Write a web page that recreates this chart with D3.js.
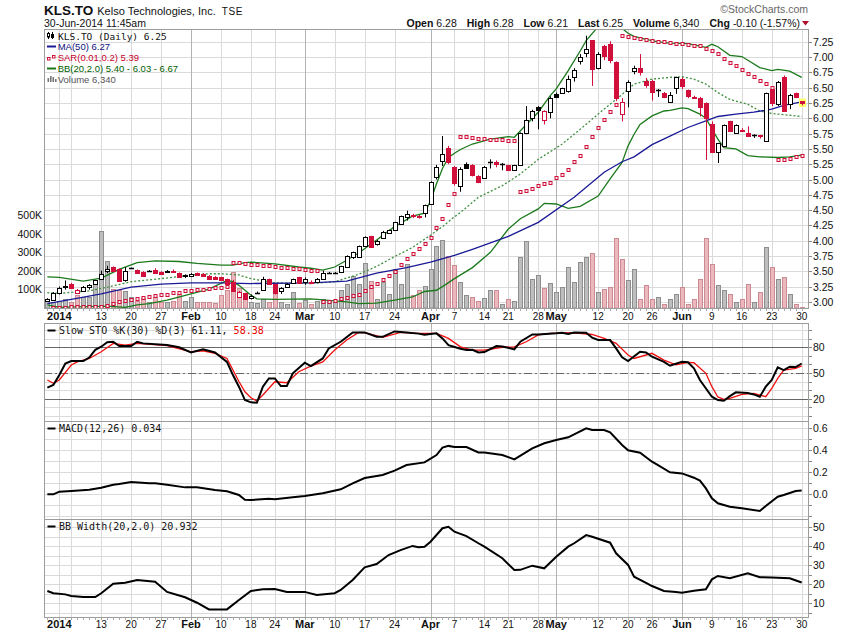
<!DOCTYPE html>
<html><head><meta charset="utf-8">
<script src="https://cdn.jsdelivr.net/npm/d3@7/dist/d3.min.js"></script>
<style>html,body{margin:0;padding:0;background:#fff;}svg{display:block}</style>
</head><body>
<svg id="chart" width="850" height="633"></svg>
<script>
// ---------------- DATA ----------------
const symbol = "KLS.TO", companyName = "Kelso Technologies, Inc.", exchange = "TSE";
const stamp = "30-Jun-2014 11:45am";
const quote = [["Open","6.28"],["High","6.28"],["Low","6.21"],["Last","6.25"],["Volume","6,340"],["Chg","-0.10 (-1.57%)"]];
const tradingDays = {
 "2013-12":[30,31],
 "2014-01":[2,3,6,7,8,9,10,13,14,15,16,17,20,21,22,23,24,27,28,29,30,31],
 "2014-02":[3,4,5,6,7,10,11,12,13,14,18,19,20,21,24,25,26,27,28],
 "2014-03":[3,4,5,6,7,10,11,12,13,14,17,18,19,20,21,24,25,26,27,28,31],
 "2014-04":[1,2,3,4,7,8,9,10,11,14,15,16,17,21,22,23,24,25,28,29,30],
 "2014-05":[1,2,5,6,7,8,9,12,13,14,15,16,20,21,22,23,26,27,28,29,30],
 "2014-06":[2,3,4,5,6,9,10,11,12,13,16,17,18,19,20,23,24,25,26,27,30]
};
const openP = [3.02,3.03,3.14,3.24,3.30,3.14,3.18,3.25,3.30,3.38,
3.50,3.57,3.54,3.36,3.55,3.52,3.49,3.51,3.52,3.49,
3.49,3.51,3.47,3.44,3.42,3.47,3.46,3.43,3.41,3.40,
3.37,3.33,3.08,3.14,3.06,3.15,3.20,3.37,3.29,3.18,
3.24,3.31,3.40,3.33,3.32,3.33,3.38,3.47,3.47,3.49,
3.57,3.73,3.74,3.91,4.07,3.94,4.04,4.13,4.18,4.28,
4.39,4.42,4.40,4.45,4.60,5.04,5.30,5.52,5.20,4.90,
5.26,5.23,5.06,5.03,5.28,5.28,5.25,5.23,5.16,5.23,
5.76,6.01,6.19,5.97,6.11,6.40,6.42,6.45,6.68,6.93,
7.06,7.28,6.83,7.18,7.21,6.92,6.07,6.44,6.78,6.83,
6.61,6.61,6.47,6.41,6.26,6.50,6.65,6.46,6.35,6.34,
6.25,5.90,5.45,5.55,5.95,5.76,5.81,5.76,5.72,5.72,
5.63,6.48,6.24,6.68,6.23,6.41,6.28];
const highP = [3.06,3.16,3.25,3.35,3.31,3.21,3.26,3.29,3.36,3.51,
3.59,3.58,3.55,3.57,3.56,3.53,3.50,3.52,3.55,3.50,
3.52,3.53,3.48,3.45,3.47,3.48,3.47,3.44,3.42,3.41,
3.38,3.36,3.18,3.15,3.12,3.17,3.41,3.38,3.30,3.24,
3.31,3.38,3.41,3.40,3.35,3.39,3.51,3.49,3.49,3.59,
3.76,3.82,3.92,4.07,4.08,4.01,4.16,4.18,4.31,4.41,
4.49,4.44,4.42,4.59,4.97,5.24,5.71,5.55,5.22,5.20,
5.28,5.25,5.07,5.22,5.33,5.31,5.27,5.24,5.24,5.77,
6.20,6.14,6.20,6.13,6.36,6.42,6.50,6.70,6.82,7.05,
7.35,7.28,7.08,7.20,7.26,6.93,6.33,6.62,6.86,7.05,
6.66,6.63,6.48,6.43,6.43,6.68,6.67,6.47,6.37,6.35,
6.26,5.95,5.60,5.90,5.96,5.90,5.84,5.87,5.74,5.73,
6.42,6.50,6.61,6.70,6.40,6.42,6.28];
const lowP = [3.01,3.02,3.12,3.20,3.21,3.13,3.17,3.20,3.29,3.37,
3.47,3.50,3.33,3.33,3.54,3.47,3.41,3.49,3.46,3.45,
3.48,3.48,3.40,3.39,3.41,3.43,3.42,3.37,3.36,3.34,
3.29,3.17,3.06,3.03,3.04,3.13,3.18,3.29,3.12,3.13,
3.23,3.30,3.30,3.28,3.29,3.32,3.37,3.46,3.46,3.48,
3.56,3.70,3.73,3.90,3.89,3.92,4.03,4.12,4.17,4.27,
4.33,4.37,4.36,4.38,4.59,5.00,5.22,5.25,4.90,4.80,
5.18,5.05,4.94,5.02,5.18,5.20,5.15,5.15,5.15,5.22,
5.74,5.95,5.82,5.90,6.00,6.33,6.40,6.42,6.60,6.88,
7.00,6.53,6.80,6.95,6.90,6.28,5.95,6.18,6.72,6.70,
6.50,6.29,6.35,6.33,6.25,6.40,6.48,6.33,6.33,6.03,
5.32,5.45,5.27,5.53,5.78,5.75,5.78,5.70,5.68,5.67,
5.62,6.20,6.20,6.12,6.15,6.33,6.21];
const closeP = [3.04,3.14,3.23,3.26,3.22,3.20,3.25,3.27,3.35,3.46,
3.54,3.51,3.34,3.51,3.55,3.48,3.42,3.50,3.48,3.46,
3.50,3.49,3.41,3.42,3.46,3.44,3.43,3.38,3.37,3.35,
3.30,3.18,3.16,3.05,3.10,3.15,3.38,3.30,3.14,3.22,
3.30,3.37,3.31,3.38,3.31,3.38,3.47,3.475,3.48,3.58,
3.75,3.81,3.91,4.06,3.90,4.00,4.15,4.17,4.30,4.40,
4.43,4.40,4.39,4.58,4.96,5.21,5.41,5.29,4.94,5.18,
5.19,5.07,4.96,5.20,5.285,5.25,5.26,5.16,5.23,5.76,
5.98,6.12,6.13,6.12,6.34,6.35,6.49,6.64,6.79,7.01,
7.13,6.80,7.05,7.02,6.96,6.34,6.26,6.60,6.83,6.76,
6.54,6.43,6.47,6.35,6.38,6.67,6.53,6.37,6.34,6.19,
6.00,5.45,5.59,5.89,5.80,5.89,5.80,5.71,5.72,5.71,
6.41,6.25,6.60,6.12,6.38,6.35,6.25];
// volume in thousands of shares
const volumeK = [46,31,40,51,35,69,57,57,130,415,
255,105,95,90,60,40,55,35,60,30,
35,40,75,40,60,30,35,30,25,69,
95,195,110,82,33,28,51,33,87,33,
24,84,29,42,21,37,46,42,33,96,
132,172,129,241,145,46,141,78,210,132,
237,69,96,120,213,334,370,282,231,138,
69,62,37,55,95,95,21,48,37,275,
361,156,181,107,134,84,114,219,138,246,
275,295,89,102,116,381,264,152,210,51,
127,51,57,24,46,73,112,24,51,159,
381,240,127,95,78,30,46,132,35,89,
332,219,159,165,73,24,6.34];
const sar = [null,2.90,2.90,2.90,2.91,2.91,2.91,2.91,2.92,
2.92,2.94,2.96,2.99,3.01,3.03,3.05,3.06,3.08,3.09,3.11,3.12,3.14,3.15,3.17,3.18,3.19,3.20,3.21,3.22,3.23,3.24,
3.64,3.63,3.62,3.61,3.60,3.59,3.58,3.57,3.56,3.55,3.54,3.53,3.52,3.51,3.50,
3.00,3.00,3.02,3.04,3.07,3.09,3.12,3.18,3.24,3.30,3.35,3.43,3.49,3.60,3.70,3.79,3.87,3.95,4.05,4.20,4.36,4.59,4.77,
5.70,5.70,5.68,5.67,5.66,5.65,5.65,5.64,5.63,5.63,
4.80,4.81,4.84,4.89,4.92,4.95,5.02,5.08,5.16,5.28,5.39,5.53,5.69,5.84,5.97,6.10,6.22,
7.34,7.33,7.31,7.29,7.28,7.27,7.25,7.24,7.23,7.22,7.21,7.20,7.19,7.18,7.14,7.10,7.05,6.97,6.90,6.85,6.79,6.73,6.67,6.61,6.56,6.50,
5.32,5.32,5.34,5.36,5.39];
const ma50 = [["12-30",2.97],["01-06",3.04],["01-13",3.13],["01-20",3.24],["01-27",3.29],["02-03",3.31],["02-10",3.31],["02-18",3.30],["03-04",3.31],["03-12",3.34],["03-19",3.47],["03-26",3.56],["04-01",3.65],["04-07",3.76],["04-10",3.86],["04-21",4.07],["04-28",4.30],["05-06",4.71],["05-13",5.12],["05-16",5.29],["05-21",5.37],["05-26",5.57],["05-29",5.71],["06-03",5.85],["06-06",5.96],["06-10",6.03],["06-13",6.07],["06-18",6.10],["06-23",6.15],["06-25",6.21],["06-30",6.27]];
const bbUpper = [["12-30",3.41],["01-02",3.40],["01-08",3.34],["01-13",3.39],["01-16",3.53],["01-21",3.64],["01-24",3.67],["01-30",3.66],["02-04",3.63],["02-10",3.60],["02-12",3.60],["02-14",3.64],["02-18",3.65],["02-24",3.62],["02-28",3.57],["03-04",3.55],["03-06",3.52],["03-10",3.57],["03-12",3.68],["03-14",3.80],["03-19",4.01],["03-24",4.23],["03-27",4.40],["03-31",4.45],["04-01",4.65],["04-02",4.93],["04-03",5.18],["04-04",5.36],["04-07",5.43],["04-08",5.49],["04-10",5.58],["04-15",5.66],["04-21",5.70],["04-22",5.69],["04-24",5.90],["04-28",6.10],["04-30",6.37],["05-01",6.48],["05-05",6.78],["05-07",7.10],["05-08",7.27],["05-12",7.50],["05-14",7.58],["05-16",7.47],["05-20",7.39],["05-21",7.34],["05-23",7.29],["05-27",7.25],["05-29",7.23],["06-03",7.22],["06-06",7.16],["06-09",7.21],["06-10",7.17],["06-12",7.03],["06-16",7.01],["06-19",6.83],["06-23",6.78],["06-24",6.80],["06-26",6.77],["06-30",6.67]];
const bbMiddle = [["12-30",3.15],["01-02",3.14],["01-09",3.18],["01-14",3.24],["01-20",3.33],["01-27",3.38],["02-03",3.44],["02-06",3.46],["02-10",3.46],["02-13",3.44],["02-18",3.38],["02-24",3.31],["03-04",3.30],["03-10",3.33],["03-14",3.45],["03-19",3.58],["03-24",3.74],["03-27",3.89],["04-01",4.09],["04-03",4.23],["04-07",4.39],["04-08",4.46],["04-11",4.71],["04-17",4.90],["04-23",5.09],["04-28",5.33],["05-02",5.58],["05-07",5.82],["05-12",6.07],["05-16",6.39],["05-20",6.48],["05-21",6.56],["05-26",6.64],["05-29",6.67],["06-02",6.68],["06-04",6.64],["06-06",6.56],["06-10",6.42],["06-12",6.31],["06-17",6.23],["06-19",6.12],["06-23",6.08],["06-25",6.06],["06-30",6.03]];
const bbLower = [["12-30",2.95],["01-02",2.91],["01-07",2.92],["01-14",2.93],["01-17",2.91],["01-21",2.95],["01-23",2.97],["01-28",3.03],["02-03",3.13],["02-06",3.21],["02-11",3.35],["02-12",3.33],["02-13",3.27],["02-18",3.11],["02-19",3.05],["02-24",3.04],["03-04",3.05],["03-12",3.00],["03-14",2.97],["03-19",2.98],["03-24",3.03],["03-27",3.08],["03-31",3.17],["04-02",3.19],["04-03",3.25],["04-07",3.38],["04-10",3.56],["04-15",3.81],["04-21",4.19],["04-23",4.36],["04-28",4.52],["04-29",4.61],["05-01",4.60],["05-05",4.53],["05-07",4.56],["05-12",4.73],["05-14",5.01],["05-16",5.28],["05-20",5.55],["05-21",5.74],["05-22",5.90],["05-26",6.04],["05-28",6.12],["05-29",6.13],["06-02",6.17],["06-03",6.16],["06-05",6.07],["06-06",6.00],["06-10",5.66],["06-11",5.52],["06-13",5.50],["06-17",5.39],["06-19",5.37],["06-24",5.36],["06-26",5.37],["06-30",5.40]];
const stoK = [["12-30",33],["12-31",36],["01-02",47.6],["01-03",61],["01-06",64],["01-08",64],["01-09",68],["01-10",77],["01-13",80.7],["01-14",86],["01-15",86.5],["01-16",81.5],["01-20",81.5],["01-21",86.5],["01-22",84.6],["01-28",82.6],["01-30",80],["02-03",74],["02-05",77.6],["02-07",74],["02-11",63],["02-12",47.6],["02-13",34],["02-14",18.4],["02-18",15.7],["02-19",15.3],["02-20",34],["02-21",43.7],["02-24",43.7],["02-25",34.8],["02-26",34.8],["02-27",49.6],["03-03",62],["03-04",58],["03-06",67],["03-07",78.7],["03-11",86.5],["03-13",97.4],["03-17",97.4],["03-19",92.3],["03-20",92.3],["03-24",98.6],["03-26",97.4],["03-28",96],["03-31",94.6],["04-02",96.3],["04-03",90.4],["04-04",82.6],["04-08",78.3],["04-09",76.8],["04-10",77.2],["04-11",74],["04-14",74.5],["04-16",81.4],["04-17",81],["04-22",77.6],["04-23",86.5],["04-25",95],["04-28",95],["05-01",96.3],["05-02",97],["05-05",95.5],["05-06",97.4],["05-08",97],["05-09",91.2],["05-12",88.5],["05-14",88.5],["05-15",78.8],["05-16",68.3],["05-20",64],["05-22",74.8],["05-23",74],["05-26",69],["05-28",63],["05-29",58.5],["06-02",63],["06-03",62.5],["06-04",55.4],["06-05",41.8],["06-09",22.3],["06-10",18.4],["06-11",17.6],["06-12",23],["06-13",27.4],["06-17",26.5],["06-18",25],["06-19",22.3],["06-20",34],["06-23",41.8],["06-24",56.6],["06-25",53.4],["06-26",57.3],["06-27",57],["06-30",61.11]];
const stoD = [["12-30",41.8],["12-31",38],["01-02",41.8],["01-06",59.3],["01-07",63],["01-09",67],["01-13",74.8],["01-15",84.6],["01-17",82.6],["01-21",84.6],["01-28",82],["02-03",74.8],["02-05",76],["02-07",73],["02-11",67],["02-13",40],["02-14",28],["02-18",21],["02-19",17.3],["02-20",24.3],["02-24",39.8],["02-26",38.6],["02-28",51.5],["03-04",58],["03-06",63],["03-10",76.8],["03-12",88.5],["03-14",97.4],["03-17",97],["03-20",91.6],["03-25",97.4],["03-28",96.3],["04-02",96.3],["04-04",90.4],["04-08",80.6],["04-10",76.8],["04-14",76.8],["04-17",80],["04-22",80.6],["04-24",86.5],["04-28",94.6],["04-30",96.3],["05-06",97],["05-09",95],["05-13",90.4],["05-15",84.6],["05-20",71],["05-21",67],["05-26",73],["05-28",65],["05-30",59.5],["06-03",62.4],["06-04",62],["06-06",49.6],["06-09",34],["06-10",22],["06-11",19.3],["06-12",20.4],["06-16",25],["06-18",26.3],["06-20",22.3],["06-23",32],["06-24",43.7],["06-25",53.4],["06-27",55.4],["06-30",58.38]];
const macd = [["12-30",0.00],["12-31",0.00],["01-02",0.024],["01-06",0.03],["01-09",0.042],["01-13",0.06],["01-15",0.087],["01-16",0.094],["01-20",0.112],["01-23",0.10],["01-24",0.10],["01-28",0.087],["01-31",0.063],["02-04",0.063],["02-07",0.039],["02-11",0.027],["02-13",-0.006],["02-14",-0.049],["02-18",-0.052],["02-21",-0.04],["02-24",-0.045],["02-27",-0.027],["03-03",-0.015],["03-06",0.009],["03-11",0.045],["03-13",0.10],["03-17",0.148],["03-20",0.175],["03-24",0.215],["03-26",0.266],["03-31",0.29],["04-02",0.357],["04-03",0.424],["04-04",0.44],["04-07",0.43],["04-09",0.43],["04-11",0.38],["04-14",0.38],["04-17",0.357],["04-22",0.318],["04-25",0.418],["04-29",0.464],["05-01",0.494],["05-05",0.518],["05-08",0.60],["05-09",0.585],["05-13",0.585],["05-14",0.563],["05-16",0.448],["05-20",0.40],["05-22",0.378],["05-26",0.296],["05-27",0.266],["05-29",0.20],["06-02",0.19],["06-04",0.151],["06-05",0.124],["06-06",0.054],["06-09",-0.036],["06-10",-0.082],["06-12",-0.113],["06-16",-0.127],["06-19",-0.152],["06-20",-0.106],["06-24",-0.022],["06-25",-0.006],["06-27",0.03],["06-30",0.034]];
const bbWidth = [["12-30",16.5],["12-31",15.3],["01-03",14.7],["01-06",13.8],["01-08",13.3],["01-10",13.3],["01-13",15.3],["01-15",20.3],["01-17",20.8],["01-21",22.3],["01-24",21.4],["01-28",16],["01-31",13.2],["02-04",10.3],["02-06",6.8],["02-11",6.8],["02-13",11.7],["02-18",16.5],["02-20",17.4],["02-24",17.5],["02-26",16],["03-03",16],["03-05",14.4],["03-10",15.3],["03-11",17],["03-13",22.3],["03-17",28.9],["03-19",30.7],["03-21",35.4],["03-25",38],["03-27",40.2],["03-28",39.5],["03-31",39.8],["04-01",42.4],["04-03",49.5],["04-04",50.3],["04-07",47.7],["04-09",45.4],["04-11",41.6],["04-14",39.8],["04-17",33.7],["04-22",27.5],["04-23",27.6],["04-25",29.8],["04-29",28.4],["05-01",34.5],["05-05",39.8],["05-06",41.6],["05-08",45.9],["05-09",45],["05-14",41.9],["05-15",36.3],["05-20",30.2],["05-21",24],["05-23",20.8],["05-26",19.1],["05-28",16.5],["05-30",16],["06-02",15.6],["06-04",16.6],["06-06",17.4],["06-09",22.6],["06-10",24.4],["06-12",23.2],["06-17",25.8],["06-19",23.7],["06-23",23.6],["06-26",23.2],["06-30",20.932]];
const dateLabels = [["01-02","2014","y"],["01-13","13","d"],["01-20","20","d"],["01-27","27","d"],["02-03","Feb","m"],["02-10","10","d"],["02-18","18","d"],["02-24","24","d"],["03-03","Mar","m"],["03-10","10","d"],["03-17","17","d"],["03-24","24","d"],["04-01","Apr","m"],["04-07","7","d"],["04-14","14","d"],["04-21","21","d"],["04-28","28","d"],["05-01","May","m"],["05-12","12","d"],["05-20","20","d"],["05-26","26","d"],["06-02","Jun","m"],["06-09","9","d"],["06-16","16","d"],["06-23","23","d"],["06-30","30","d"]];
const extraGridDates = ["01-06"];
const priceTicks = [3.00,3.25,3.50,3.75,4.00,4.25,4.50,4.75,5.00,5.25,5.50,5.75,6.00,6.25,6.50,6.75,7.00,7.25];
const volumeTicksK = [100,200,300,400,500];
const stoGrid = [0,10,20,30,40,50,60,70,80,90,100], stoLabels = [20,50,80];
const macdGrid = [-0.2,-0.1,0,0.1,0.2,0.3,0.4,0.5,0.6], macdLabels = [0,0.2,0.4,0.6];
const bbwGrid = [5,10,15,20,25,30,35,40,45,50], bbwLabels = [10,20,30,40,50];
const legendPrice = {name:"KLS.TO (Daily) 6.25", ma:"MA(50) 6.27", sar:"SAR(0.01,0.2) 5.39", bb:"BB(20,2.0) 5.40 - 6.03 - 6.67", vol:"Volume 6,340"};
const stoTitle = ["Slow STO %K(30) %D(3) 61.11, ", "58.38"];
const macdTitle = "MACD(12,26) 0.034";
const bbwTitle = "BB Width(20,2.0) 20.932";

// ---------------- DRAWING ----------------
const svg = d3.select("#chart");
const SANS = "'Liberation Sans', Arial, sans-serif";
const MONO = "'DejaVu Sans Mono', monospace";
const RED = "#d0103a", GRID = "#dadada", MGRID = "#b2b2b2", BORDER = "#9c9c9c";
const L = 44, R = 809;
const panels = {price:{top:29,bottom:308}, sto:{top:323,bottom:421}, macd:{top:421,bottom:519}, bbw:{top:519,bottom:617}};

const dates = [];
for (const [ym, days] of Object.entries(tradingDays)) for (const d of days) dates.push(ym.slice(5) + "-" + String(d).padStart(2,"0"));
const idx = new Map(dates.map((d,k)=>[d,k]));
const x = d3.scaleLinear().domain([-0.56, dates.length + 0.22]).range([L, R]);
const px = k => Math.round(x(k)) + 0.5;

const yP = d3.scaleLinear().domain([2.90, 7.46]).range([308, 29]);
const yV = d3.scaleLinear().domain([0, 1508]).range([308, 29]);
const yS = d3.scaleLinear().domain([0, 100]).range([415.8, 330.2]);
const yM = d3.scaleLinear().domain([0, 0.6]).range([494.3, 428.3]);
const yB = d3.scaleLinear().domain([10, 50]).range([603.3, 527.3]);

const defs = svg.append("defs");
for (const [id,p] of Object.entries(panels)) {
  defs.append("clipPath").attr("id","clip-"+id).append("rect")
    .attr("x",L).attr("y",p.top).attr("width",R-L).attr("height",p.bottom-p.top);
}

const gridDates = dateLabels.map(d=>({date:d[0], kind:d[2]})).concat(extraGridDates.map(d=>({date:d, kind:"d"})));

function frame(id, hVals, y) {
  const p = panels[id];
  const g = svg.append("g");
  g.selectAll(null).data(hVals).join("line")
    .attr("x1",L).attr("x2",R)
    .attr("y1",d=>Math.round(y(d))+0.5).attr("y2",d=>Math.round(y(d))+0.5)
    .attr("stroke",GRID).attr("stroke-width",1);
  g.selectAll(null).data(gridDates).join("line")
    .attr("x1",d=>px(idx.get(d.date))).attr("x2",d=>px(idx.get(d.date)))
    .attr("y1",p.top).attr("y2",p.bottom)
    .attr("stroke",d=>d.kind==="m"?MGRID:GRID).attr("stroke-width",1);
  return g;
}
function border(id) {
  const p = panels[id];
  svg.append("rect").attr("x",L+0.5).attr("y",p.top+0.5).attr("width",R-L-1).attr("height",p.bottom-p.top)
    .attr("fill","none").attr("stroke",BORDER).attr("stroke-width",1);
}
function rightAxis(y, vals, fmt) {
  const ax = svg.append("g").attr("transform",`translate(${R},0)`)
    .call(d3.axisRight(y).tickValues(vals).tickSize(3).tickPadding(1).tickFormat(fmt));
  ax.select(".domain").remove();
  ax.selectAll(".tick line").attr("stroke","#888");
  ax.selectAll(".tick text").attr("font-family",SANS).attr("font-size",10.5).attr("fill","#111");
  ax.selectAll(".tick").attr("transform", d => `translate(0,${Math.round(y(d))+0.5})`);
}
function lineOf(y) {
  return d3.line().x(d=>x(idx.get(d[0]))).y(d=>y(d[1]));
}
function dayTicks(yb) {
  svg.append("g").selectAll(null).data(dates).join("line")
    .attr("x1",(d,k)=>px(k)).attr("x2",(d,k)=>px(k)).attr("y1",yb).attr("y2",yb+2.5)
    .attr("stroke","#aaa").attr("stroke-width",1);
}
function dateAxis(baseline) {
  svg.append("g").selectAll(null).data(dateLabels).join("text")
    .attr("x",d=>x(idx.get(d[0]))).attr("y",baseline)
    .attr("text-anchor","middle").attr("font-family",SANS)
    .attr("font-size",d=>d[2]==="d"?10:11).attr("font-weight",d=>d[2]==="d"?"normal":"bold")
    .attr("fill","#111").text(d=>d[1]);
}

// ---- header ----
const t1 = svg.append("text").attr("x",44).attr("y",15).attr("font-family",SANS).attr("font-weight","bold").attr("font-size",13.5).attr("fill","#111").text(symbol);
const w1 = t1.node().getComputedTextLength();
const t2 = svg.append("text").attr("x",44+w1+4).attr("y",14.5).attr("font-family",SANS).attr("font-size",11).attr("fill","#111").text(companyName);
const w2 = t2.node().getComputedTextLength();
svg.append("text").attr("x",44+w1+4+w2+6).attr("y",14.5).attr("font-family",SANS).attr("font-size",10).attr("letter-spacing",0.6).attr("fill","#111").text(exchange);
svg.append("text").attr("x",44).attr("y",27).attr("font-family",SANS).attr("font-size",10.5).attr("fill","#111").text(stamp);
svg.append("text").attr("x",808).attr("y",13).attr("text-anchor","end").attr("font-family",SANS).attr("font-size",10.5).attr("fill","#666").text("\u00A9StockCharts.com");
const q = svg.append("text").attr("x",800).attr("y",26.5).attr("text-anchor","end").attr("font-family",SANS).attr("font-size",10.5).attr("fill","#111");
quote.forEach((d,i)=>{
  q.append("tspan").attr("font-weight","bold").attr("dx",i===0?0:10).text(d[0]);
  q.append("tspan").attr("dx",3).text(d[1]);
});
svg.append("path").attr("d","M802,21L809,21L805.5,25.5Z").attr("fill","#b0102e");

// ---- price panel ----
frame("price", priceTicks, yP);
const gp = svg.append("g").attr("clip-path","url(#clip-price)");
const isUp = k => k===0 || closeP[k] >= closeP[k-1];
// volume
gp.append("g").selectAll(null).data(volumeK).join("rect")
  .attr("x",(v,k)=>px(k)-2).attr("width",4)
  .attr("y",v=>Math.round(yV(v))+0.5).attr("height",v=>Math.max(0,308-Math.round(yV(v))-0.5))
  .attr("fill",(v,k)=>isUp(k)?"#bebebe":"#ebb8bd")
  .attr("stroke",(v,k)=>isUp(k)?"#8e8e8e":"#cc8a93").attr("stroke-width",1);
// Bollinger bands & MA
gp.append("path").datum(bbUpper).attr("d",lineOf(yP)).attr("fill","none").attr("stroke","#1b7a1b").attr("stroke-width",1.3);
gp.append("path").datum(bbLower).attr("d",lineOf(yP)).attr("fill","none").attr("stroke","#1b7a1b").attr("stroke-width",1.3);
gp.append("path").datum(bbMiddle).attr("d",lineOf(yP)).attr("fill","none").attr("stroke","#3f8f3f").attr("stroke-width",1.3).attr("stroke-dasharray","2,2");
gp.append("path").datum(ma50).attr("d",lineOf(yP)).attr("fill","none").attr("stroke","#1a1a96").attr("stroke-width",1.3);
// last-price highlight
const lastK = dates.length-1;
gp.append("rect").attr("x",px(lastK)-3.5).attr("y",yP(closeP[lastK])-4.5).attr("width",7).attr("height",8.5).attr("fill","#ffff70");
// candles
const cg = gp.append("g");
dates.forEach((d,k)=>{
  const o=openP[k], h=highP[k], l=lowP[k], c=closeP[k];
  const col = isUp(k) ? "#000" : RED;
  const cx = px(k);
  cg.append("line").attr("x1",cx).attr("x2",cx).attr("y1",yP(h)).attr("y2",yP(l)).attr("stroke",col).attr("stroke-width",1);
  const top = Math.round(yP(Math.max(o,c)))+0.5, bot = Math.round(yP(Math.min(o,c)))+0.5;
  if (bot - top < 1) {
    cg.append("line").attr("x1",cx-2.5).attr("x2",cx+2.5).attr("y1",top).attr("y2",top).attr("stroke",col).attr("stroke-width",1.5);
  } else {
    cg.append("rect").attr("x",cx-2).attr("width",4).attr("y",top).attr("height",bot-top)
      .attr("fill", c>o ? "#fff" : col).attr("stroke",col).attr("stroke-width",1);
  }
});
// SAR
gp.append("g").selectAll(null).data(sar.map((v,k)=>[k,v]).filter(d=>d[1]!=null)).join("rect")
  .attr("x",d=>px(d[0])-1.5).attr("y",d=>Math.round(yP(d[1]))-1.5).attr("width",3).attr("height",3)
  .attr("fill","#fde8ec").attr("stroke",RED).attr("stroke-width",1);
border("price");
rightAxis(yP, priceTicks, d3.format(".2f"));
{
  const ax = svg.append("g").attr("transform",`translate(${L},0)`)
    .call(d3.axisLeft(yV).tickValues(volumeTicksK).tickSize(0).tickPadding(2).tickFormat(d=>d+"K"));
  ax.select(".domain").remove();
  ax.selectAll(".tick text").attr("font-family",SANS).attr("font-size",10.5).attr("fill","#111");
}
// legend
{
  const g = svg.append("g");
  // candle icon
  g.append("line").attr("x1",48.5).attr("x2",48.5).attr("y1",32).attr("y2",39).attr("stroke","#000");
  g.append("rect").attr("x",47.5).attr("y",33.5).attr("width",2).attr("height",3.5).attr("fill","#fff").attr("stroke","#000");
  g.append("line").attr("x1",52.5).attr("x2",52.5).attr("y1",32).attr("y2",39).attr("stroke","#000");
  g.append("rect").attr("x",51.5).attr("y",34.5).attr("width",2).attr("height",3).attr("fill","#000").attr("stroke","#000");
  g.append("text").attr("x",58).attr("y",39.5).attr("font-family",MONO).attr("font-size",9.5).attr("fill","#111").text(legendPrice.name);
  g.append("line").attr("x1",47).attr("x2",56).attr("y1",46.5).attr("y2",46.5).attr("stroke","#1a1a96").attr("stroke-width",2);
  g.append("text").attr("x",57.7).attr("y",50.3).attr("font-family",SANS).attr("font-size",9.5).attr("fill","#101080").text(legendPrice.ma);
  g.append("rect").attr("x",47.5).attr("y",57.5).attr("width",2.5).attr("height",2.5).attr("fill","#fff").attr("stroke",RED);
  g.append("rect").attr("x",52.5).attr("y",55.5).attr("width",2.5).attr("height",2.5).attr("fill","#fff").attr("stroke",RED);
  g.append("text").attr("x",57.7).attr("y",61.1).attr("font-family",SANS).attr("font-size",9.5).attr("fill","#c8002c").text(legendPrice.sar);
  g.append("line").attr("x1",47).attr("x2",56).attr("y1",68.5).attr("y2",68.5).attr("stroke","#1b7a1b").attr("stroke-width",2);
  g.append("text").attr("x",57.7).attr("y",71.9).attr("font-family",SANS).attr("font-size",9.5).attr("fill","#006000").text(legendPrice.bb);
  [[47.5,4],[50,6],[52.5,5],[55,3]].forEach(b=>g.append("rect").attr("x",b[0]).attr("y",82-b[1]).attr("width",1.6).attr("height",b[1]).attr("fill","#777"));
  g.append("text").attr("x",57.7).attr("y",82.7).attr("font-family",SANS).attr("font-size",9.5).attr("fill","#555").text(legendPrice.vol);
}
dayTicks(308.5);
dateAxis(319.5);

// ---- STO panel ----
frame("sto", stoGrid, yS);
{
  const g = svg.append("g").attr("clip-path","url(#clip-sto)");
  [80,20].forEach(v=>g.append("line").attr("x1",L).attr("x2",R).attr("y1",Math.round(yS(v))+0.5).attr("y2",Math.round(yS(v))+0.5).attr("stroke","#666"));
  g.append("line").attr("x1",L).attr("x2",R).attr("y1",Math.round(yS(50))+0.5).attr("y2",Math.round(yS(50))+0.5).attr("stroke","#666").attr("stroke-dasharray","8,3,2,3");
  g.append("path").datum(stoD).attr("d",lineOf(yS)).attr("fill","none").attr("stroke","#f01010").attr("stroke-width",1.3);
  g.append("path").datum(stoK).attr("d",lineOf(yS)).attr("fill","none").attr("stroke","#000").attr("stroke-width",2);
}
border("sto");
rightAxis(yS, stoGrid, d=>stoLabels.includes(d)?d:"");
{
  const g = svg.append("g");
  g.append("line").attr("x1",47.5).attr("x2",55.5).attr("y1",330.5).attr("y2",330.5).attr("stroke","#000").attr("stroke-width",2);
  const t = g.append("text").attr("x",59).attr("y",334).attr("font-family",MONO).attr("font-size",10).attr("fill","#111");
  t.append("tspan").text(stoTitle[0]);
  t.append("tspan").attr("fill","#e00").text(stoTitle[1]);
}

// ---- MACD panel ----
frame("macd", macdGrid, yM);
svg.append("g").attr("clip-path","url(#clip-macd)").append("path").datum(macd).attr("d",lineOf(yM)).attr("fill","none").attr("stroke","#000").attr("stroke-width",2);
border("macd");
rightAxis(yM, macdGrid, d=>macdLabels.some(v=>Math.abs(v-d)<1e-9)?d3.format(".1f")(d):"");
svg.append("line").attr("x1",47.5).attr("x2",55.5).attr("y1",428.5).attr("y2",428.5).attr("stroke","#000").attr("stroke-width",2);
svg.append("text").attr("x",59).attr("y",432).attr("font-family",MONO).attr("font-size",10).attr("fill","#111").text(macdTitle);

// ---- BB Width panel ----
frame("bbw", bbwGrid, yB);
svg.append("g").attr("clip-path","url(#clip-bbw)").append("path").datum(bbWidth).attr("d",lineOf(yB)).attr("fill","none").attr("stroke","#000").attr("stroke-width",2);
border("bbw");
rightAxis(yB, bbwGrid, d=>bbwLabels.includes(d)?d:"");
svg.append("line").attr("x1",47.5).attr("x2",55.5).attr("y1",526.5).attr("y2",526.5).attr("stroke","#000").attr("stroke-width",2);
svg.append("text").attr("x",59).attr("y",530).attr("font-family",MONO).attr("font-size",10).attr("fill","#111").text(bbwTitle);
dayTicks(617.5);
dateAxis(628);
</script>
</body></html>
